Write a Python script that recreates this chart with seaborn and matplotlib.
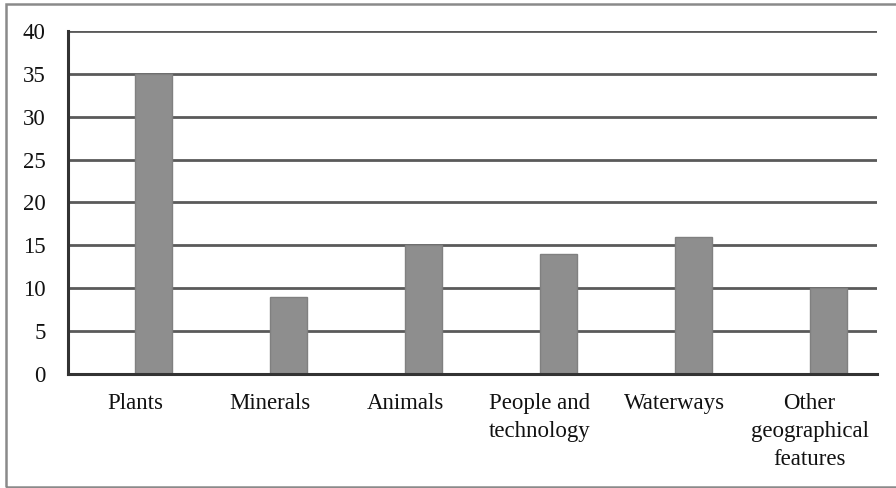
import matplotlib
matplotlib.use("Agg")
import matplotlib.pyplot as plt
import seaborn as sns
import pandas as pd
from matplotlib.patches import Rectangle

categories = ["Plants", "Minerals", "Animals", "People and\ntechnology",
              "Waterways", "Other\ngeographical\nfeatures"]
values = [35, 9, 15, 14, 16, 10]
y_ticks = [0, 5, 10, 15, 20, 25, 30, 35, 40]

sns.set_theme(style="white")
plt.rcParams['font.family'] = ['Liberation Serif', 'DejaVu Serif']

df = pd.DataFrame({
    "category": categories * 2,
    "series": ["blank"] * len(categories) + ["count"] * len(categories),
    "value": [0] * len(categories) + values,
})

fig = plt.figure(figsize=(8.96, 4.88), dpi=100)
ax = fig.add_axes([68/896, 1-374/488, (877-68)/896, (374-31)/488])

sns.barplot(data=df, x="category", y="value", hue="series",
            hue_order=["blank", "count"], palette=["#8e8e8e", "#8e8e8e"],
            width=0.55, dodge=True, legend=False, ax=ax,
            edgecolor="#808080", linewidth=1.0, saturation=1, zorder=3)

ax.set_xlim(-0.5, len(categories) - 0.5)
ax.set_ylim(0, 40)
ax.set_yticks(y_ticks)
ax.set_yticklabels([str(t) for t in y_ticks])
ax.set_xlabel("")
ax.set_ylabel("")

ax.yaxis.grid(True, color="#5a5a5a", linewidth=2.0, zorder=0)
ax.set_axisbelow(True)
for s in ["top", "right"]:
    ax.spines[s].set_visible(False)
for s in ["left", "bottom"]:
    ax.spines[s].set_color("#333333")
    ax.spines[s].set_linewidth(2.2)
    ax.spines[s].set_zorder(4)

ax.tick_params(axis="y", which="major", direction="out", length=5, width=2,
               color="#333333", pad=11, labelsize=16.5, labelcolor="#111111")
ax.tick_params(axis="x", which="major", length=0, pad=14, labelsize=16.5,
               labelcolor="#111111")
ax.set_xticks([i - 0.5 for i in range(len(categories) + 1)], minor=True)
ax.tick_params(axis="x", which="minor", direction="out", length=5, width=2,
               color="#333333")
for lbl in ax.get_xticklabels():
    lbl.set_linespacing(1.42)
    lbl.set_verticalalignment("top")

fig.patches.append(Rectangle((6/896, 1/488), 1.0, 1-5/488, transform=fig.transFigure,
                             fill=False, edgecolor="#8a8a8a", linewidth=1.8, zorder=0))

fig.savefig("out.png", dpi=100)
